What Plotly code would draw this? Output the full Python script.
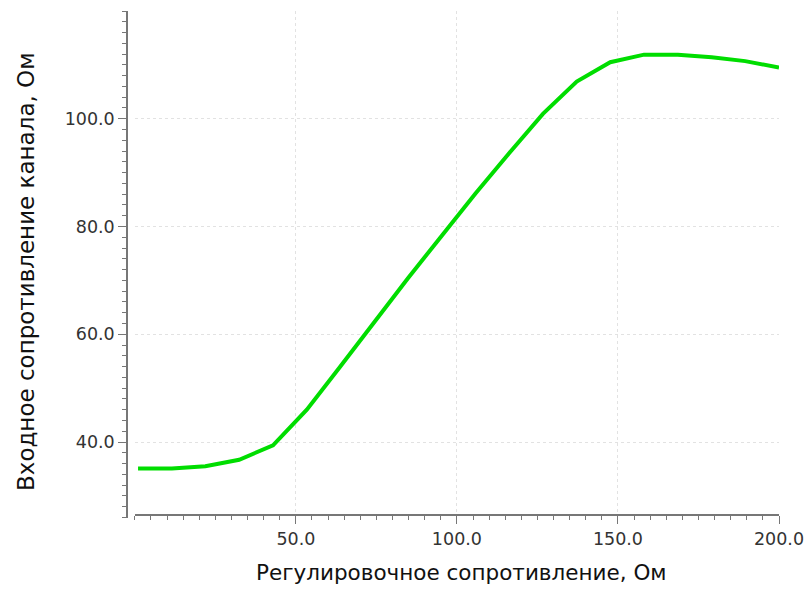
import plotly.graph_objects as go

# Регулировочное сопротивление, Ом
r_adj = [1, 11.5, 21.9, 32.4, 42.9, 53.4, 63.8, 74.3, 84.8, 95.3,
         105.7, 116.2, 126.7, 137.2, 147.6, 158.1, 168.6, 179.1, 189.5, 200]
# Входное сопротивление канала, Ом
r_in = [35.1, 35.1, 35.5, 36.7, 39.4, 46.0, 54.0, 62.3, 70.4, 78.3,
        86.1, 93.6, 100.9, 106.9, 110.5, 111.9, 111.9, 111.4, 110.7, 109.5]

x_ticks = [50, 100, 150, 200]
y_ticks = [40, 60, 80, 100]

AXIS_COLOR = "#777777"
GRID_COLOR = "#e2e2e2"
FONT = "DejaVu Sans"

W, H = 812, 593
ML, MR, MT, MB = 127, 33, 11, 75
PW, PH = W - ML - MR, H - MT - MB

fig = go.Figure(
    go.Scatter(
        x=r_adj, y=r_in, mode="lines",
        line=dict(color="#00dd00", width=4),
        showlegend=False,
    )
)

fig.update_layout(
    width=W, height=H,
    margin=dict(l=ML, r=MR, t=MT, b=MB, autoexpand=False),
    paper_bgcolor="white", plot_bgcolor="white",
    font=dict(family=FONT, color="#333333"),
    xaxis=dict(
        domain=[0.012, 1], range=[0, 200], automargin=False,
        anchor="free", position=0.006,
        tickmode="array", tickvals=x_ticks,
        ticktext=[f"{v:.1f}" for v in x_ticks],
        ticks="outside", ticklen=8, tickwidth=1, tickcolor=AXIS_COLOR,
        minor=dict(dtick=5, tick0=0, ticks="outside", ticklen=4,
                   tickcolor=AXIS_COLOR, showgrid=False),
        showline=True, linecolor=AXIS_COLOR, linewidth=1.5,
        showgrid=True, gridcolor=GRID_COLOR, griddash="dot", gridwidth=1,
        zeroline=False,
        tickfont=dict(size=17.5, family=FONT, color="#333333"),
    ),
    yaxis=dict(
        range=[25.9, 120], anchor="free", position=0, automargin=False,
        tickmode="array", tickvals=y_ticks,
        ticktext=[f"{v:.1f}" for v in y_ticks],
        ticks="outside", ticklen=8, tickwidth=1, tickcolor=AXIS_COLOR,
        minor=dict(dtick=2, tick0=0, ticks="outside", ticklen=4,
                   tickcolor=AXIS_COLOR, showgrid=False),
        showline=True, linecolor=AXIS_COLOR, linewidth=1.5,
        showgrid=True, gridcolor=GRID_COLOR, griddash="dot", gridwidth=1,
        zeroline=False,
        tickfont=dict(size=17.5, family=FONT, color="#333333"),
    ),
    annotations=[
        dict(text="Регулировочное сопротивление, Ом",
             xref="paper", yref="paper",
             x=(461 - ML) / PW, y=-(572 - (MT + PH)) / PH,
             xanchor="center", yanchor="middle", showarrow=False,
             font=dict(size=21.5, family=FONT, color="#111111")),
        dict(text="Входное сопротивление канала, Ом",
             xref="paper", yref="paper", textangle=-90,
             x=(26 - ML) / PW, y=(MT + PH - 272) / PH,
             xanchor="center", yanchor="middle", showarrow=False,
             font=dict(size=23, family=FONT, color="#111111")),
    ],
)

fig.write_html("out.html")
